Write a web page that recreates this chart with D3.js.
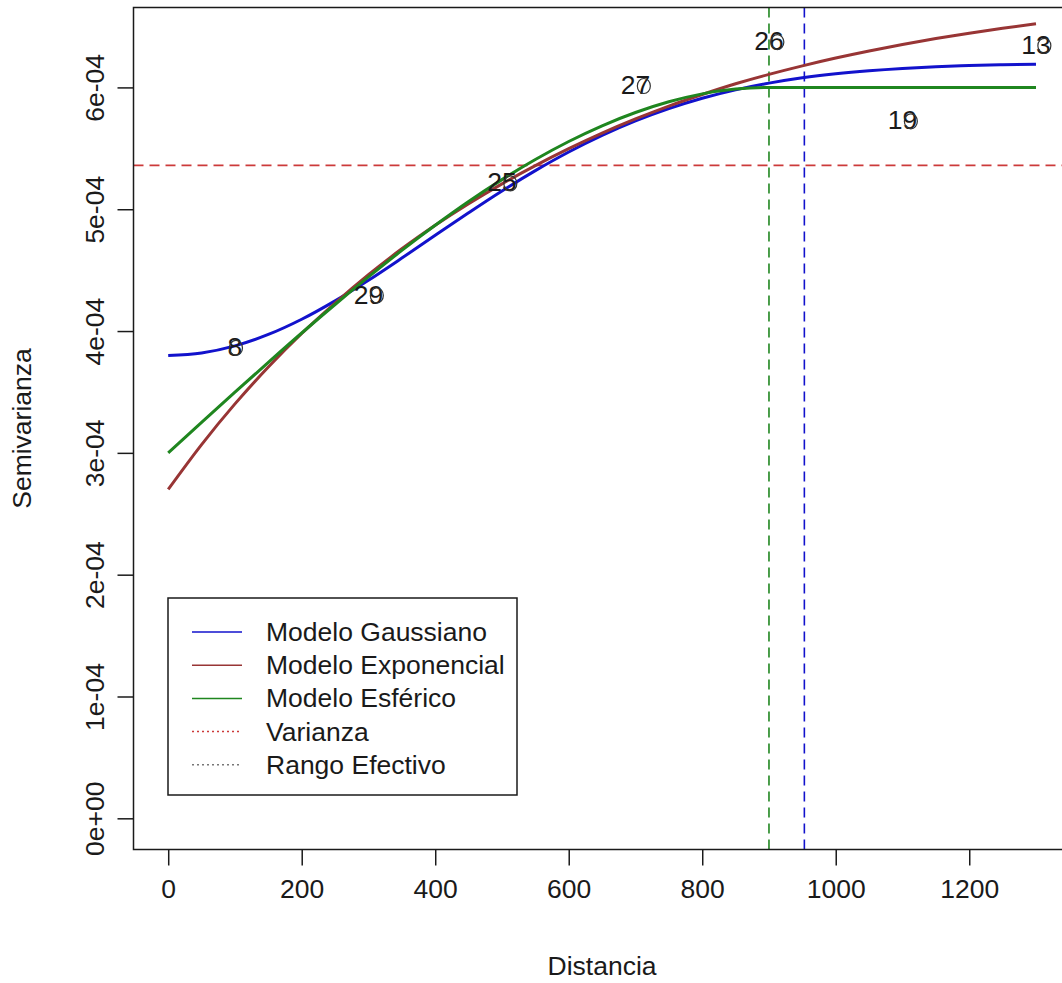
<!DOCTYPE html>
<html>
<head>
<meta charset="utf-8">
<script src="https://cdn.jsdelivr.net/npm/d3@7"></script>
<style>
  html, body { margin: 0; padding: 0; background: #fff; }
  svg { display: block; }
  text { font-family: "Liberation Sans", Arial, Helvetica, sans-serif; fill: #1a1a1a; }
</style>
</head>
<body>
<svg id="chart" width="1062" height="983"></svg>
<script>
// ---------------- data ----------------
const distances = [0, 50, 100, 150, 200, 250, 300, 350, 400, 450, 500, 550, 600, 650,
                   700, 750, 800, 850, 900, 950, 1000, 1050, 1100, 1150, 1200, 1250, 1300];
const gaussiano = [3.800e-4, 3.820e-4, 3.878e-4, 3.972e-4, 4.097e-4, 4.248e-4, 4.417e-4, 4.599e-4,
                   4.786e-4, 4.971e-4, 5.150e-4, 5.317e-4, 5.470e-4, 5.606e-4, 5.725e-4, 5.826e-4,
                   5.911e-4, 5.980e-4, 6.035e-4, 6.079e-4, 6.112e-4, 6.137e-4, 6.156e-4, 6.170e-4,
                   6.179e-4, 6.186e-4, 6.191e-4];
const exponencial = [2.700e-4, 3.068e-4, 3.402e-4, 3.705e-4, 3.980e-4, 4.230e-4, 4.462e-4, 4.675e-4,
                     4.868e-4, 5.045e-4, 5.208e-4, 5.358e-4, 5.497e-4, 5.625e-4, 5.741e-4, 5.847e-4,
                     5.942e-4, 6.030e-4, 6.107e-4, 6.177e-4, 6.241e-4, 6.299e-4, 6.352e-4, 6.401e-4,
                     6.445e-4, 6.485e-4, 6.522e-4];
const esferico = [3.000e-4, 3.250e-4, 3.498e-4, 3.743e-4, 3.984e-4, 4.218e-4, 4.444e-4, 4.662e-4,
                  4.868e-4, 5.063e-4, 5.243e-4, 5.408e-4, 5.556e-4, 5.685e-4, 5.794e-4, 5.882e-4,
                  5.947e-4, 5.986e-4, 6.000e-4, 6.000e-4, 6.000e-4, 6.000e-4, 6.000e-4, 6.000e-4,
                  6.000e-4, 6.000e-4, 6.000e-4];

const pointDist   = [100, 300, 500, 700, 900, 1100, 1300];
const pointVals   = [3.87e-4, 4.30e-4, 5.22e-4, 6.02e-4, 6.38e-4, 5.73e-4, 6.35e-4];
const pointLabels = ["8", "29", "25", "27", "26", "19", "13"];

const varianza = 5.36e-4;
const rangoEsferico = 900;
const rangoGaussiano = 953;

const xTicks = [0, 200, 400, 600, 800, 1000, 1200];
const yTicks = [0, 1e-4, 2e-4, 3e-4, 4e-4, 5e-4, 6e-4];
const yTickLabels = ["0e+00", "1e-04", "2e-04", "3e-04", "4e-04", "5e-04", "6e-04"];

const legendLabels = ["Modelo Gaussiano", "Modelo Exponencial", "Modelo Esférico", "Varianza", "Rango Efectivo"];

// ---------------- styles ----------------
const colGauss = "#1212cc";
const colExp = "#983535";
const colEsf = "#1f861f";
const colVar = "#cc3a3a";
const colRango = "#777777";
const FS = 26.5;

// ---------------- layout ----------------
const svg = d3.select("#chart");
const plot = { left: 133.5, top: 7.5, bottom: 849.5, right: 1070.7 };

const x = d3.scaleLinear().domain([-52, 1352]).range([plot.left, plot.right]);
const y = d3.scaleLinear().domain([-0.256e-4, 6.656e-4]).range([plot.bottom, plot.top]);

svg.append("defs").append("clipPath").attr("id", "clip")
  .append("rect").attr("x", plot.left).attr("y", plot.top)
  .attr("width", plot.right - plot.left).attr("height", plot.bottom - plot.top);

const g = svg.append("g").attr("clip-path", "url(#clip)");

// reference lines
g.append("line")
  .attr("x1", plot.left).attr("x2", plot.right)
  .attr("y1", y(varianza)).attr("y2", y(varianza))
  .attr("stroke", colVar).attr("stroke-width", 1.6).attr("stroke-dasharray", "10,6");
g.append("line")
  .attr("x1", x(rangoEsferico)).attr("x2", x(rangoEsferico))
  .attr("y1", plot.top).attr("y2", plot.bottom)
  .attr("stroke", colEsf).attr("stroke-width", 1.6).attr("stroke-dasharray", "10,6");
g.append("line")
  .attr("x1", x(rangoGaussiano)).attr("x2", x(rangoGaussiano))
  .attr("y1", plot.top).attr("y2", plot.bottom)
  .attr("stroke", colGauss).attr("stroke-width", 1.6).attr("stroke-dasharray", "10,6");

// model curves
const line = (vals) => d3.line()
  .x((d, i) => x(distances[i]))
  .y((d) => y(d))
  .curve(d3.curveMonotoneX)(vals);

[[gaussiano, colGauss], [exponencial, colExp], [esferico, colEsf]].forEach(([vals, col]) => {
  g.append("path").attr("d", line(vals))
    .attr("fill", "none").attr("stroke", col).attr("stroke-width", 3);
});

// empirical points: label + open circle
const pts = svg.append("g");
pointDist.forEach((d, i) => {
  const t = pts.append("text")
    .attr("x", x(d)).attr("y", y(pointVals[i]))
    .attr("text-anchor", "middle").attr("dominant-baseline", "central")
    .attr("font-size", FS).text(pointLabels[i]);
  const bb = t.node().getBBox();
  const cw = bb.width / pointLabels[i].length;
  pts.append("ellipse")
    .attr("cx", bb.x + bb.width - cw / 2 + 1)
    .attr("cy", y(pointVals[i]) + 1)
    .attr("rx", 6.5).attr("ry", 7.5)
    .attr("fill", "none").attr("stroke", "#333").attr("stroke-width", 1.2);
});

// frame
svg.append("rect")
  .attr("x", plot.left).attr("y", plot.top)
  .attr("width", plot.right - plot.left).attr("height", plot.bottom - plot.top)
  .attr("fill", "none").attr("stroke", "#1a1a1a").attr("stroke-width", 1.5);

// x axis
const xAxis = svg.append("g")
  .attr("transform", `translate(0,${plot.bottom})`)
  .call(d3.axisBottom(x).tickValues(xTicks).tickSize(16).tickPadding(14).tickFormat(d3.format("d")));
xAxis.select(".domain").remove();
xAxis.selectAll(".tick line").attr("stroke", "#1a1a1a").attr("stroke-width", 1.5);
xAxis.selectAll(".tick text").attr("font-size", FS).attr("font-family", null).attr("fill", "#1a1a1a");

// y axis
const yAxis = svg.append("g")
  .attr("transform", `translate(${plot.left},0)`)
  .call(d3.axisLeft(y).tickValues(yTicks).tickSize(16).tickFormat((d, i) => yTickLabels[i]));
yAxis.select(".domain").remove();
yAxis.selectAll(".tick line").attr("stroke", "#1a1a1a").attr("stroke-width", 1.5);
yAxis.selectAll(".tick text")
  .attr("font-size", FS).attr("font-family", null).attr("fill", "#1a1a1a")
  .attr("x", null).attr("dy", null)
  .attr("text-anchor", "middle")
  .attr("transform", "translate(-30,0) rotate(-90)");

// axis titles
svg.append("text")
  .attr("x", (plot.left + plot.right) / 2).attr("y", 966)
  .attr("text-anchor", "middle").attr("dominant-baseline", "central")
  .attr("font-size", FS).text("Distancia");
svg.append("text")
  .attr("transform", `translate(22,${(plot.top + plot.bottom) / 2}) rotate(-90)`)
  .attr("text-anchor", "middle").attr("dominant-baseline", "central")
  .attr("font-size", FS).text("Semivarianza");

// legend
const leg = svg.append("g");
leg.append("rect").attr("x", 168).attr("y", 598).attr("width", 349).attr("height", 197)
  .attr("fill", "#fff").attr("stroke", "#1a1a1a").attr("stroke-width", 1.5);
const legStyles = [
  { col: colGauss, dash: null },
  { col: colExp, dash: null },
  { col: colEsf, dash: null },
  { col: colVar, dash: "2,3" },
  { col: colRango, dash: "2,3" }
];
legendLabels.forEach((lab, i) => {
  const ly = 632 + i * 33.2;
  leg.append("line").attr("x1", 192).attr("x2", 242).attr("y1", ly).attr("y2", ly)
    .attr("stroke", legStyles[i].col).attr("stroke-width", 1.5)
    .attr("stroke-dasharray", legStyles[i].dash);
  leg.append("text").attr("x", 266).attr("y", ly)
    .attr("dominant-baseline", "central").attr("font-size", FS).text(lab);
});
</script>
</body>
</html>
